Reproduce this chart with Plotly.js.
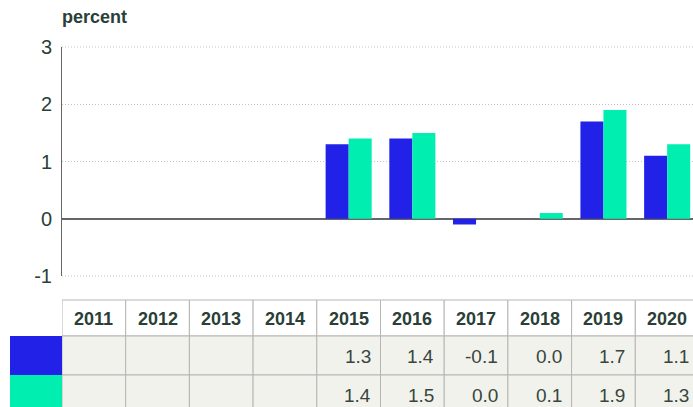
<!DOCTYPE html>
<html>
<head>
<meta charset="utf-8">
<script src="https://cdn.plot.ly/plotly-3.0.1.min.js"></script>
<style>html,body{margin:0;padding:0;background:#fff;}#chart{width:693px;height:407px;}</style>
</head>
<body>
<div id="chart"></div>
<script>
// ---- data ----
var years = ['2011','2012','2013','2014','2015','2016','2017','2018','2019','2020'];
var seriesA = [null, null, null, null, 1.3, 1.4, -0.1, 0.0, 1.7, 1.1];
var seriesB = [null, null, null, null, 1.4, 1.5, 0.0, 0.1, 1.9, 1.3];
var seriesNames = ['Series A', 'Series B'];
var yTickVals = [-1, 0, 1, 2, 3];
var yTickText = ['-1', '0', '1', '2', '3'];
var yTitle = 'percent';

// ---- styles ----
var colA = '#2121e8';
var colB = '#00efb1';
var textCol = '#2a3f37';
var font = '"Liberation Sans", Arial, sans-serif';
var border = '#b5b5b5';
var cellFill = '#f2f2ed';
var gridCol = '#c4c4c4';

var W = 693, H = 407, ML = 62, MT = 47, MB = 131;
var colPx = 63.7;
var plotH = H - MT - MB;       // 229
var plotBottom = H - MB;       // 276
function py(p) { return (plotBottom - p) / plotH; }  // pixel -> paper y
function pxp(p) { return (p - ML) / (W - ML); }      // pixel -> paper x

var traces = [
  {type: 'bar', name: seriesNames[0], x: years, y: seriesA, marker: {color: colA}, hoverinfo: 'skip'},
  {type: 'bar', name: seriesNames[1], x: years, y: seriesB, marker: {color: colB}, hoverinfo: 'skip'}
];

// table rows (pixel boundaries)
var rowTop = [300, 336, 375];
var rowBot = [336, 375, 414];
var shapes = [], annotations = [];
var rowsData = [null, seriesA, seriesB];
var rowColors = [null, colA, colB];

// gridlines at the range ends (Plotly omits them)
[0, 1].forEach(function (yy) {
  shapes.push({type: 'line', xref: 'paper', yref: 'paper', layer: 'below', x0: 0, x1: 1, y0: yy, y1: yy,
    line: {color: gridCol, width: 1, dash: '1px,2px'}});
});

for (var r = 0; r < 3; r++) {
  for (var i = 0; i < years.length; i++) {
    shapes.push({type: 'rect', xref: 'x', yref: 'paper', layer: 'above',
      x0: i - 0.5, x1: i + 0.5, y0: py(rowBot[r]), y1: py(rowTop[r]),
      fillcolor: r === 0 ? '#ffffff' : cellFill, line: {color: border, width: 1}});
    var mid = py((rowTop[r] + rowBot[r]) / 2 + 1);
    if (r === 0) {
      annotations.push({xref: 'x', yref: 'paper', x: i, y: mid, xanchor: 'center', yanchor: 'middle',
        text: '<b>' + years[i] + '</b>', showarrow: false, font: {family: font, size: 18, color: textCol}});
    } else {
      var v = rowsData[r][i];
      if (v !== null && v !== undefined) {
        annotations.push({xref: 'x', yref: 'paper', x: i, y: mid, xanchor: 'right', yanchor: 'middle',
          xshift: colPx / 2 - 8,
          text: v.toFixed(1), showarrow: false, font: {family: font, size: 19, color: '#36463f'}});
      }
    }
  }
  if (r > 0) {
    shapes.push({type: 'rect', xref: 'paper', yref: 'paper', layer: 'above',
      x0: pxp(10), x1: 0, y0: py(rowBot[r]), y1: py(rowTop[r]),
      fillcolor: rowColors[r], line: {width: 0}});
  }
}

var layout = {
  width: W, height: H,
  margin: {l: ML, r: 0, t: MT, b: MB, pad: 0},
  paper_bgcolor: '#ffffff', plot_bgcolor: '#ffffff',
  showlegend: false,
  barmode: 'group', bargap: 0.277, bargroupgap: 0,
  font: {family: font, color: textCol},
  title: {text: '<b>' + yTitle + '</b>', x: 0, xref: 'paper', xanchor: 'left',
          y: 1 - 17 / H, yref: 'container', yanchor: 'middle', pad: {t: 0, b: 0, l: 0, r: 0},
          font: {family: font, size: 18, color: textCol}},
  xaxis: {type: 'category', categoryorder: 'array', categoryarray: years,
          range: [-0.5, -0.5 + (W - ML) / colPx], showticklabels: false, showgrid: false,
          zeroline: false, showline: false, ticks: '', fixedrange: true},
  yaxis: {range: [-1, 3], tickmode: 'array', tickvals: yTickVals, ticktext: yTickText,
          showgrid: true, gridcolor: gridCol, griddash: '1px,2px', gridwidth: 1,
          zeroline: true, zerolinecolor: '#666666', zerolinewidth: 2,
          showline: true, linecolor: '#666666', linewidth: 1,
          ticks: 'outside', ticklen: 5, tickcolor: 'rgba(0,0,0,0)',
          tickfont: {family: font, size: 20, color: textCol}, fixedrange: true},
  shapes: shapes,
  annotations: annotations
};

Plotly.newPlot('chart', traces, layout, {staticPlot: true, displayModeBar: false});
</script>
</body>
</html>
